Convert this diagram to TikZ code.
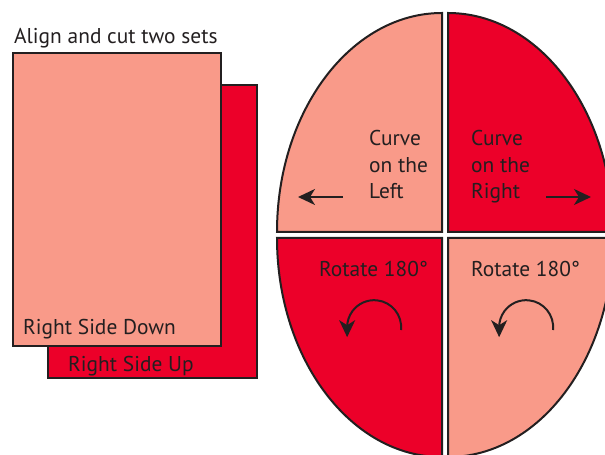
\documentclass[tikz,border=0pt]{standalone}
\usepackage{fontspec}
\setmainfont{PT Sans}
\usetikzlibrary{arrows.meta}
\definecolor{salmon}{HTML}{F99A89}
\definecolor{redfill}{HTML}{EC0029}
\definecolor{ink}{HTML}{231F20}
\tikzset{
  piece/.style={draw=ink, line width=2bp, line join=miter},
  lbl/.style={anchor=base west, inner sep=0pt, text=ink, font=\fontsize{21.5}{26}\selectfont},
  arr/.style={draw=ink, line width=2bp, -{Stealth[length=17bp, width=16bp, inset=5bp]}},
}
\begin{document}
\begin{tikzpicture}[x=1bp, y=-1bp]
\useasboundingbox (0,0) rectangle (605,455);
\begin{scope}
\clip (0,0) rectangle (605,455);
% sheets
\path[piece, fill=redfill] (48,85) rectangle (257,378);
\path[piece, fill=salmon] (13,53) rectangle (221,346);
\node[lbl] (title) at (14,44) {Align and cut two sets};
\node[lbl] (down) at (23,334) {Right Side Down};
\node[lbl] (up) at (68,371) {Right Side Up};
% ellipse quarters
\def\rx{165}\def\ry{219}
\path[piece, fill=salmon] (442,232) -- ++(0,-\ry) arc[start angle=270, end angle=180, x radius=\rx, y radius=\ry] -- cycle;
\path[piece, fill=redfill] (448,232) -- ++(0,-\ry) arc[start angle=270, end angle=360, x radius=\rx, y radius=\ry] -- cycle;
\path[piece, fill=redfill] (442,238) -- ++(0,\ry) arc[start angle=90, end angle=180, x radius=\rx, y radius=\ry] -- cycle;
\path[piece, fill=salmon] (448,238) -- ++(0,\ry) arc[start angle=90, end angle=0, x radius=\rx, y radius=\ry] -- cycle;
% labels
\node[lbl] (cl1) at (369,146) {Curve};
\node[lbl] (cl2) at (369,172.5) {on the};
\node[lbl] (cl3) at (369,199) {Left};
\node[lbl] (cr1) at (471,146) {Curve};
\node[lbl] (cr2) at (471,172.5) {on the};
\node[lbl] (cr3) at (471,199) {Right};
\node[lbl] (rl) at (319,277) {Rotate 180°};
\node[lbl] (rr) at (471,277) {Rotate 180°};
% arrows
\coordinate (la0) at (343,197); \coordinate (la1) at (298,197);
\coordinate (ra0) at (546,197); \coordinate (ra1) at (591,197);
\draw[arr] (la0) -- (la1);
\draw[arr] (ra0) -- (ra1);
\coordinate (rot1) at (401,330);
\coordinate (rot2) at (553,330);
\draw[arr] (rot1) arc[start angle=6, end angle=-180, radius=27] -- ++(0,10);
\draw[arr] (rot2) arc[start angle=6, end angle=-180, radius=27] -- ++(0,10);
\end{scope}
\end{tikzpicture}
\end{document}
